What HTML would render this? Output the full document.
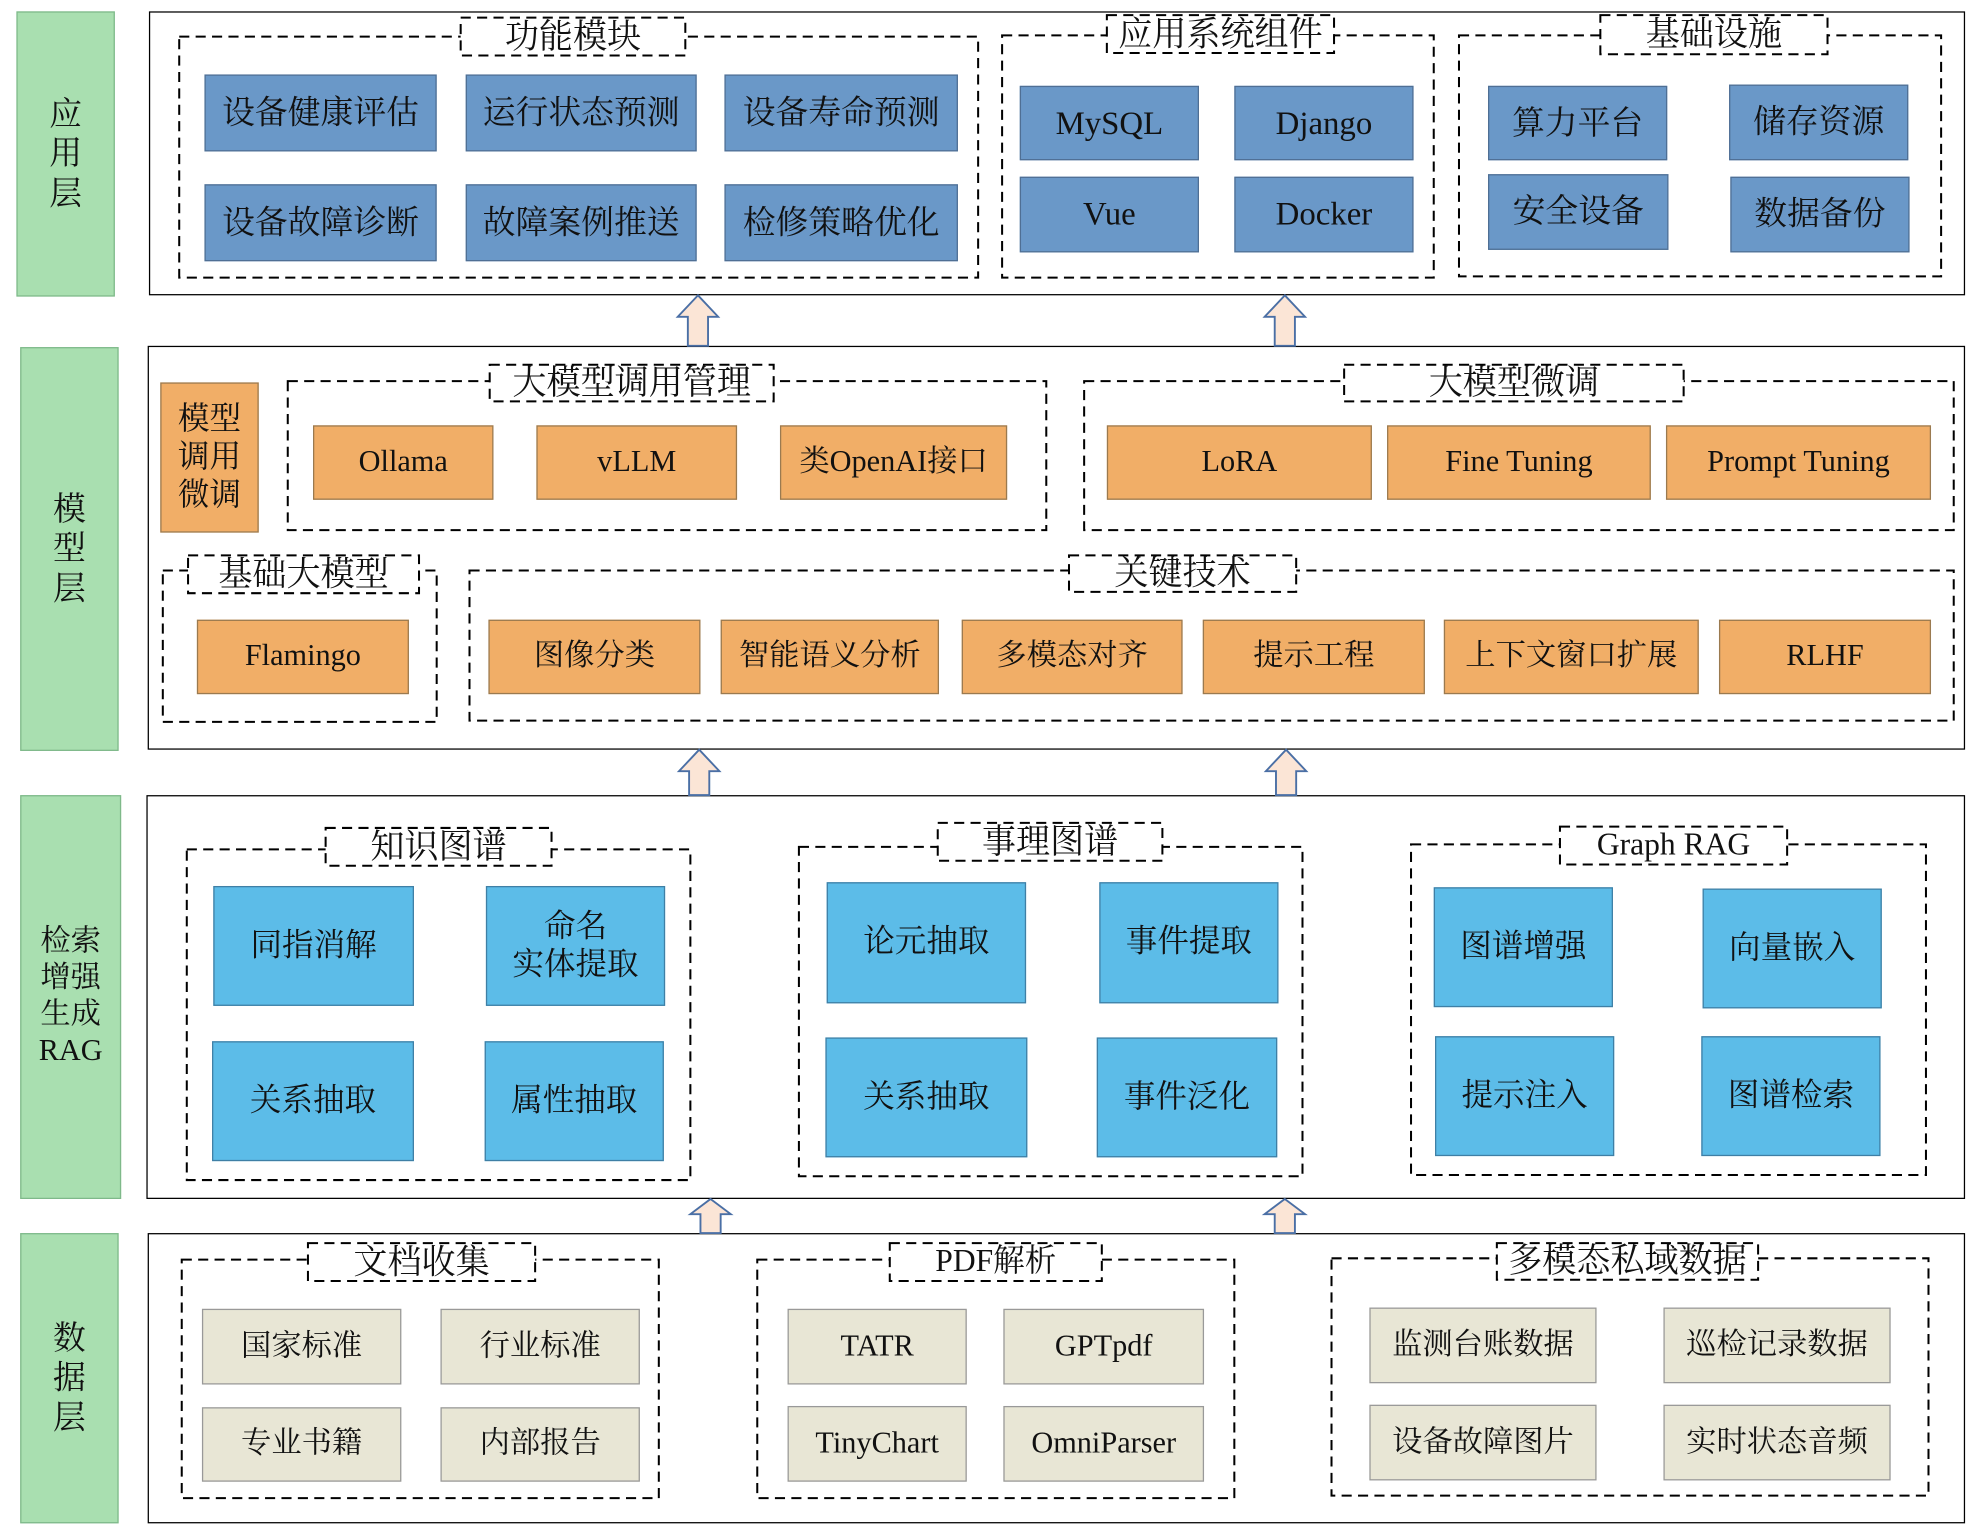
<!DOCTYPE html>
<html><head><meta charset="utf-8"><style>
html,body{margin:0;padding:0;background:#fff;}
#w{width:1979px;height:1536px;overflow:hidden;position:relative;}
#s{position:absolute;left:0;top:0;width:1568px;height:1217px;transform:scale(1.2621);transform-origin:0 0;font-family:"Liberation Serif","Noto Serif CJK SC",serif;color:#111;}
.b{position:absolute;display:flex;align-items:center;justify-content:center;text-align:center;box-sizing:border-box;line-height:1.2;}
.L{background:#A9DFB0;border:1px solid #7fb98a;font-size:26px;line-height:1.2;}
.M{border:1.6px solid #000;background:transparent;}
.t{font-size:27px;}
.A{background:#6A98C8;border:1px solid #4f6f94;font-size:26px;}
.O{background:#F1AE67;border:1px solid #9a7a50;font-size:24px;}
.R{background:#5CBCE8;border:1px solid #3f7fa5;font-size:25px;}
.D{background:#E8E6D5;border:1px solid #999;font-size:24px;}
svg{position:absolute;left:0;top:0;}
</style></head><body><div id="w"><div id="s">
<!-- layer labels -->
<div class="b L" style="left:13px;top:9px;width:78px;height:226px;">应<br>用<br>层</div>
<div class="b L" style="left:16px;top:275px;width:78px;height:320px;">模<br>型<br>层</div>
<div class="b L" style="left:16px;top:630px;width:80px;height:320px;font-size:24px;">检索<br>增强<br>生成<br>RAG</div>
<div class="b L" style="left:16px;top:977px;width:78px;height:230px;">数<br>据<br>层</div>
<!-- main boxes -->
<div class="b M" style="left:118px;top:9px;width:1439px;height:225px;"></div>
<div class="b M" style="left:117px;top:274px;width:1440px;height:320px;"></div>
<div class="b M" style="left:116px;top:630px;width:1441px;height:320px;"></div>
<div class="b M" style="left:117px;top:977px;width:1440px;height:230px;"></div>
<svg width="1568" height="1217">
<g fill="#FBE5D6" stroke="#4a6fa5" stroke-width="1.5">
<polygon points="553,234 569,251 561,251 561,274 545,274 545,251 537,251"/>
<polygon points="1018,234 1034,251 1026,251 1026,274 1010,274 1010,251 1002,251"/>
<polygon points="554,594 570,611 562,611 562,630 546,630 546,611 538,611"/>
<polygon points="1019,594 1035,611 1027,611 1027,630 1011,630 1011,611 1003,611"/>
<polygon points="563,950 579,962 571,962 571,977 555,977 555,962 547,962"/>
<polygon points="1018,950 1034,962 1026,962 1026,977 1010,977 1010,962 1002,962"/>
</g>
<g fill="none" stroke="#000" stroke-width="1.6" stroke-dasharray="8 5">
<rect x="142" y="29" width="633" height="191"/>
<rect x="794" y="28" width="342" height="192"/>
<rect x="1156" y="28" width="382" height="191"/>
<rect x="228" y="302" width="601" height="118"/>
<rect x="859" y="302" width="689" height="118"/>
<rect x="129" y="452" width="217" height="120"/>
<rect x="372" y="452" width="1176" height="119"/>
<rect x="148" y="673" width="399" height="262"/>
<rect x="633" y="671" width="399" height="261"/>
<rect x="1118" y="669" width="408" height="262"/>
<rect x="144" y="998" width="378" height="189"/>
<rect x="600" y="998" width="378" height="189"/>
<rect x="1055" y="997" width="473" height="188"/>
</g>
<g fill="#fff" stroke="#000" stroke-width="1.6" stroke-dasharray="8 5">
<rect x="365" y="14" width="178" height="30"/>
<rect x="877" y="12" width="180" height="30"/>
<rect x="1268" y="12" width="180" height="31"/>
<rect x="388" y="289" width="225" height="29"/>
<rect x="1065" y="289" width="269" height="29"/>
<rect x="149" y="440" width="183" height="30"/>
<rect x="847" y="440" width="180" height="29"/>
<rect x="258" y="656" width="179" height="30"/>
<rect x="743" y="652" width="178" height="30"/>
<rect x="1236" y="655" width="180" height="30"/>
<rect x="244" y="985" width="180" height="30"/>
<rect x="705" y="985" width="168" height="30"/>
<rect x="1186" y="985" width="207" height="29"/>
</g>
</svg>
<!-- App layer -->
<div class="b t" style="left:365px;top:14px;width:178px;height:30px;">功能模块</div>
<div class="b A" style="left:162px;top:59px;width:184px;height:61px;">设备健康评估</div>
<div class="b A" style="left:369px;top:59px;width:183px;height:61px;">运行状态预测</div>
<div class="b A" style="left:574px;top:59px;width:185px;height:61px;">设备寿命预测</div>
<div class="b A" style="left:162px;top:146px;width:184px;height:61px;">设备故障诊断</div>
<div class="b A" style="left:369px;top:146px;width:183px;height:61px;">故障案例推送</div>
<div class="b A" style="left:574px;top:146px;width:185px;height:61px;">检修策略优化</div>
<div class="b t" style="left:877px;top:12px;width:180px;height:30px;">应用系统组件</div>
<div class="b A" style="left:808px;top:68px;width:142px;height:59px;">MySQL</div>
<div class="b A" style="left:978px;top:68px;width:142px;height:59px;">Django</div>
<div class="b A" style="left:808px;top:140px;width:142px;height:60px;">Vue</div>
<div class="b A" style="left:978px;top:140px;width:142px;height:60px;">Docker</div>
<div class="b t" style="left:1268px;top:12px;width:180px;height:31px;">基础设施</div>
<div class="b A" style="left:1179px;top:68px;width:142px;height:59px;">算力平台</div>
<div class="b A" style="left:1370px;top:67px;width:142px;height:60px;">储存资源</div>
<div class="b A" style="left:1179px;top:138px;width:143px;height:60px;">安全设备</div>
<div class="b A" style="left:1371px;top:140px;width:142px;height:60px;">数据备份</div>
<!-- Model layer -->
<div class="b O" style="left:127px;top:303px;width:78px;height:119px;font-size:25px;">模型<br>调用<br>微调</div>
<div class="b t" style="left:388px;top:289px;width:225px;height:29px;">大模型调用管理</div>
<div class="b O" style="left:248px;top:337px;width:143px;height:59px;">Ollama</div>
<div class="b O" style="left:425px;top:337px;width:159px;height:59px;">vLLM</div>
<div class="b O" style="left:618px;top:337px;width:180px;height:59px;">类OpenAI接口</div>
<div class="b t" style="left:1065px;top:289px;width:269px;height:29px;">大模型微调</div>
<div class="b O" style="left:877px;top:337px;width:210px;height:59px;">LoRA</div>
<div class="b O" style="left:1099px;top:337px;width:209px;height:59px;">Fine Tuning</div>
<div class="b O" style="left:1320px;top:337px;width:210px;height:59px;">Prompt Tuning</div>
<div class="b t" style="left:149px;top:440px;width:183px;height:30px;">基础大模型</div>
<div class="b O" style="left:156px;top:491px;width:168px;height:59px;">Flamingo</div>
<div class="b t" style="left:847px;top:440px;width:180px;height:29px;">关键技术</div>
<div class="b O" style="left:387px;top:491px;width:168px;height:59px;">图像分类</div>
<div class="b O" style="left:571px;top:491px;width:173px;height:59px;">智能语义分析</div>
<div class="b O" style="left:762px;top:491px;width:175px;height:59px;">多模态对齐</div>
<div class="b O" style="left:953px;top:491px;width:176px;height:59px;">提示工程</div>
<div class="b O" style="left:1144px;top:491px;width:202px;height:59px;">上下文窗口扩展</div>
<div class="b O" style="left:1362px;top:491px;width:168px;height:59px;">RLHF</div>
<!-- RAG layer -->
<div class="b t" style="left:258px;top:656px;width:179px;height:30px;">知识图谱</div>
<div class="b R" style="left:169px;top:702px;width:159px;height:95px;">同指消解</div>
<div class="b R" style="left:385px;top:702px;width:142px;height:95px;">命名<br>实体提取</div>
<div class="b R" style="left:168px;top:825px;width:160px;height:95px;">关系抽取</div>
<div class="b R" style="left:384px;top:825px;width:142px;height:95px;">属性抽取</div>
<div class="b t" style="left:743px;top:652px;width:178px;height:30px;">事理图谱</div>
<div class="b R" style="left:655px;top:699px;width:158px;height:96px;">论元抽取</div>
<div class="b R" style="left:871px;top:699px;width:142px;height:96px;">事件提取</div>
<div class="b R" style="left:654px;top:822px;width:160px;height:95px;">关系抽取</div>
<div class="b R" style="left:869px;top:822px;width:143px;height:95px;">事件泛化</div>
<div class="b t" style="left:1236px;top:655px;width:180px;height:30px;font-size:25px;">Graph RAG</div>
<div class="b R" style="left:1136px;top:703px;width:142px;height:95px;">图谱增强</div>
<div class="b R" style="left:1349px;top:704px;width:142px;height:95px;">向量嵌入</div>
<div class="b R" style="left:1137px;top:821px;width:142px;height:95px;">提示注入</div>
<div class="b R" style="left:1348px;top:821px;width:142px;height:95px;">图谱检索</div>
<!-- Data layer -->
<div class="b t" style="left:244px;top:985px;width:180px;height:30px;">文档收集</div>
<div class="b D" style="left:160px;top:1037px;width:158px;height:60px;">国家标准</div>
<div class="b D" style="left:349px;top:1037px;width:158px;height:60px;">行业标准</div>
<div class="b D" style="left:160px;top:1115px;width:158px;height:59px;">专业书籍</div>
<div class="b D" style="left:349px;top:1115px;width:158px;height:59px;">内部报告</div>
<div class="b t" style="left:705px;top:985px;width:168px;height:30px;font-size:25px;">PDF解析</div>
<div class="b D" style="left:624px;top:1037px;width:142px;height:60px;">TATR</div>
<div class="b D" style="left:795px;top:1037px;width:159px;height:60px;">GPTpdf</div>
<div class="b D" style="left:624px;top:1114px;width:142px;height:60px;">TinyChart</div>
<div class="b D" style="left:795px;top:1114px;width:159px;height:60px;">OmniParser</div>
<div class="b t" style="left:1186px;top:985px;width:207px;height:29px;">多模态私域数据</div>
<div class="b D" style="left:1085px;top:1036px;width:180px;height:60px;">监测台账数据</div>
<div class="b D" style="left:1318px;top:1036px;width:180px;height:60px;">巡检记录数据</div>
<div class="b D" style="left:1085px;top:1113px;width:180px;height:60px;">设备故障图片</div>
<div class="b D" style="left:1318px;top:1113px;width:180px;height:60px;">实时状态音频</div>
</div></div></body></html>
